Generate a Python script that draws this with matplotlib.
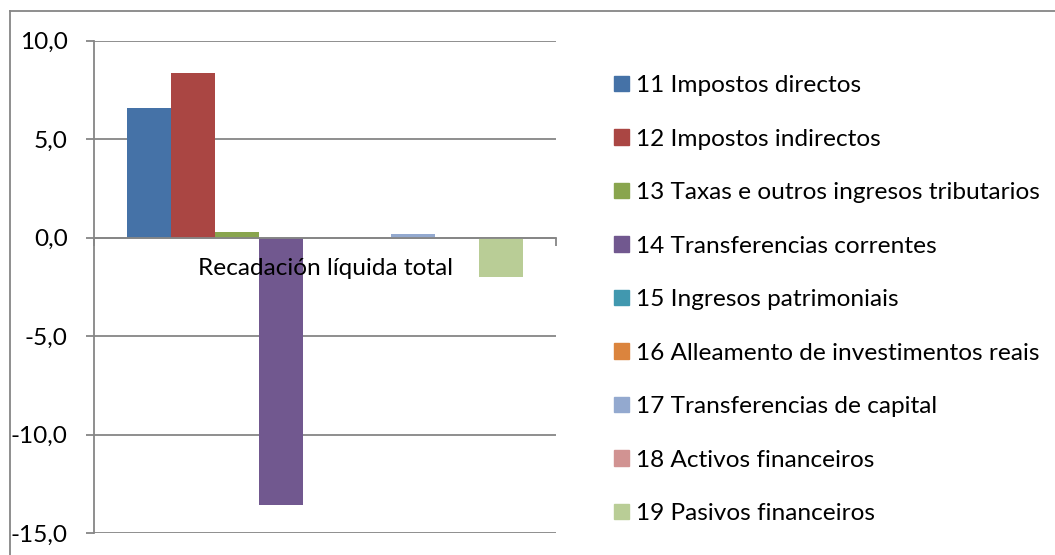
import matplotlib
matplotlib.use("Agg")
import matplotlib.pyplot as plt
from matplotlib.ticker import FuncFormatter
from matplotlib.lines import Line2D

plt.rcParams['font.family'] = ['Lato', 'DejaVu Sans']

category = "Recadación líquida total"
series = ["11 Impostos directos", "12 Impostos indirectos",
          "13 Taxas e outros ingresos tributarios", "14 Transferencias correntes",
          "15 Ingresos patrimoniais", "16 Alleamento de investimentos reais",
          "17 Transferencias de capital", "18 Activos financeiros",
          "19 Pasivos financeiros"]
values = [6.6, 8.35, 0.27, -13.55, 0.0, 0.0, 0.18, 0.0, -2.0]
colors = ["#4572A7", "#AA4643", "#89A54E", "#71588F", "#4198AF",
          "#DB843D", "#93A9CF", "#D19392", "#B9CD96"]
yticks = [-15, -10, -5, 0, 5, 10]

W, H = 1055, 555
fig = plt.figure(figsize=(W / 100, H / 100), dpi=100)
ax = fig.add_axes([94 / W, 1 - 533.3 / H, (556 - 94) / W, (533.3 - 40.7) / H])

grey = "#868686"
fs = 17.6
n = len(series)
group = 396 / 462
bw = group / n
for i, (name, v, c) in enumerate(zip(series, values, colors)):
    x = -group / 2 + (i + 0.5) * bw
    ax.bar(x, v, width=bw, color=c, label=name, zorder=2)

ax.set_xlim(-0.5, 0.5)
ax.set_ylim(-15, 10)
ax.set_yticks(yticks)
ax.yaxis.set_major_formatter(FuncFormatter(lambda v, p: ("%.1f" % v).replace(".", ",")))
ax.yaxis.grid(True, color=grey, linewidth=1.3, zorder=0)
ax.set_axisbelow(True)

ax.spines['top'].set_visible(False)
ax.spines['right'].set_visible(False)
ax.spines['left'].set_color(grey)
ax.spines['left'].set_linewidth(1.3)
ax.spines['bottom'].set_position(('data', 0))
ax.spines['bottom'].set_color(grey)
ax.spines['bottom'].set_linewidth(1.3)
ax.spines['bottom'].set_zorder(3)

ax.tick_params(axis='y', length=6, width=1.3, color=grey, labelsize=fs, pad=13)
ax.set_xticks([-0.5, 0.5])
ax.set_xticklabels(["", ""])
ax.tick_params(axis='x', which='major', length=6, width=1.3, color=grey)

# category label drawn above the bars, as in the original
ax.annotate(category, xy=(0, 0), xycoords='data', xytext=(0, -22),
            textcoords='offset points', ha='center', va='center',
            fontsize=fs, zorder=5)

handles = [plt.Rectangle((0, 0), 1, 1, color=c) for c in colors]
fig.legend(handles, series, loc='upper left', bbox_to_anchor=(614 / W, 1 - 75 / H),
           frameon=False, fontsize=fs, handlelength=0.6, handleheight=0.6,
           handletextpad=0.28, labelspacing=1.33, borderpad=0, borderaxespad=0)

# outer chart border
fig.add_artist(Line2D([10 / W, 1], [1 - 11 / H, 1 - 11 / H], color=grey, linewidth=1.3))
fig.add_artist(Line2D([10 / W, 10 / W], [0, 1 - 11 / H], color=grey, linewidth=1.3))

fig.savefig("out.png", dpi=100)
